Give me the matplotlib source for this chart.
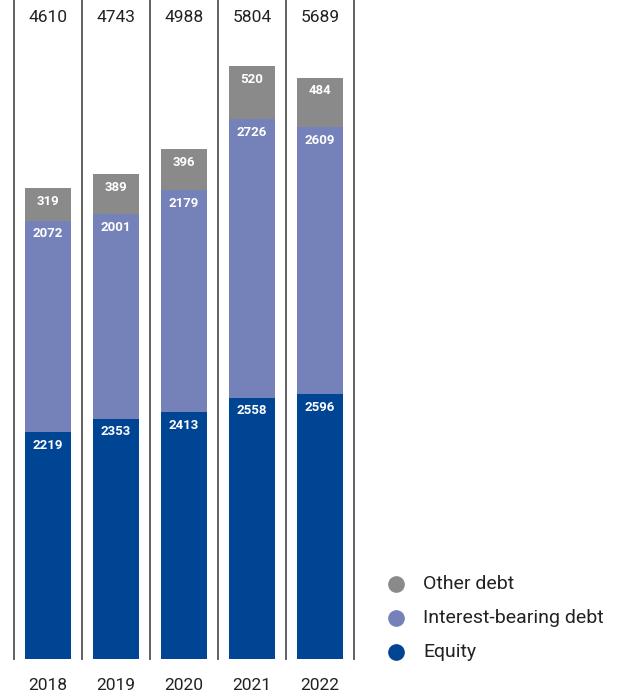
import matplotlib
matplotlib.use("Agg")
import matplotlib.pyplot as plt
from matplotlib.lines import Line2D
from matplotlib import transforms

plt.rcParams['font.family'] = ['Roboto', 'DejaVu Sans']

years = ['2018', '2019', '2020', '2021', '2022']
equity = [2219, 2353, 2413, 2558, 2596]
interest_debt = [2072, 2001, 2179, 2726, 2609]
other_debt = [319, 389, 396, 520, 484]
totals = [4610, 4743, 4988, 5804, 5689]

series = [
    ('Equity', equity, '#004494'),
    ('Interest-bearing debt', interest_debt, '#7581b9'),
    ('Other debt', other_debt, '#8a8a8a'),
]

W, H = 624, 698
fig = plt.figure(figsize=(W / 100, H / 100), dpi=100)
# plot area: left divider at x=14px, right at 354px, baseline at 659px
ax = fig.add_axes([14 / W, (H - 659) / H, 340 / W, 659 / H])
ax.set_xlim(-0.5, len(years) - 0.5)
ax.set_ylim(0, 6449)
ax.axis('off')

x = list(range(len(years)))
bottom = [0] * len(years)
for name, vals, color in series:
    ax.bar(x, vals, width=0.676, bottom=bottom, color=color, linewidth=0)
    for i, v in enumerate(vals):
        top = bottom[i] + v
        ax.annotate(str(v), (i, top), xytext=(0, -9.6), textcoords='offset points',
                    ha='center', va='center', color='white', fontsize=9.5,
                    fontweight='bold')
    bottom = [b + v for b, v in zip(bottom, vals)]

# column dividers
for i in range(len(years) + 1):
    ax.axvline(i - 0.5, 0, 1, color='#555555', linewidth=1.3, clip_on=False)

trans = transforms.blended_transform_factory(ax.transData, ax.transAxes)
for i, t in enumerate(totals):
    ax.text(i, 1 - 18 / 659, str(t), transform=trans, ha='center', va='center',
            fontsize=12.5, color='#222222')
for i, yr in enumerate(years):
    ax.text(i, -27 / 659, yr, transform=trans, ha='center', va='center',
            fontsize=12.5, color='#222222')

# legend
for k, (name, vals, color) in enumerate(reversed(series)):
    yc = 1 - (584 + 34 * k) / H
    fig.add_artist(Line2D([396 / W], [yc], marker='o', markersize=11,
                          color=color, linestyle='none',
                          transform=fig.transFigure))
    fig.text(423 / W, yc, name, ha='left', va='center', fontsize=14,
             color='#222222')

fig.savefig('out.png', dpi=100)
